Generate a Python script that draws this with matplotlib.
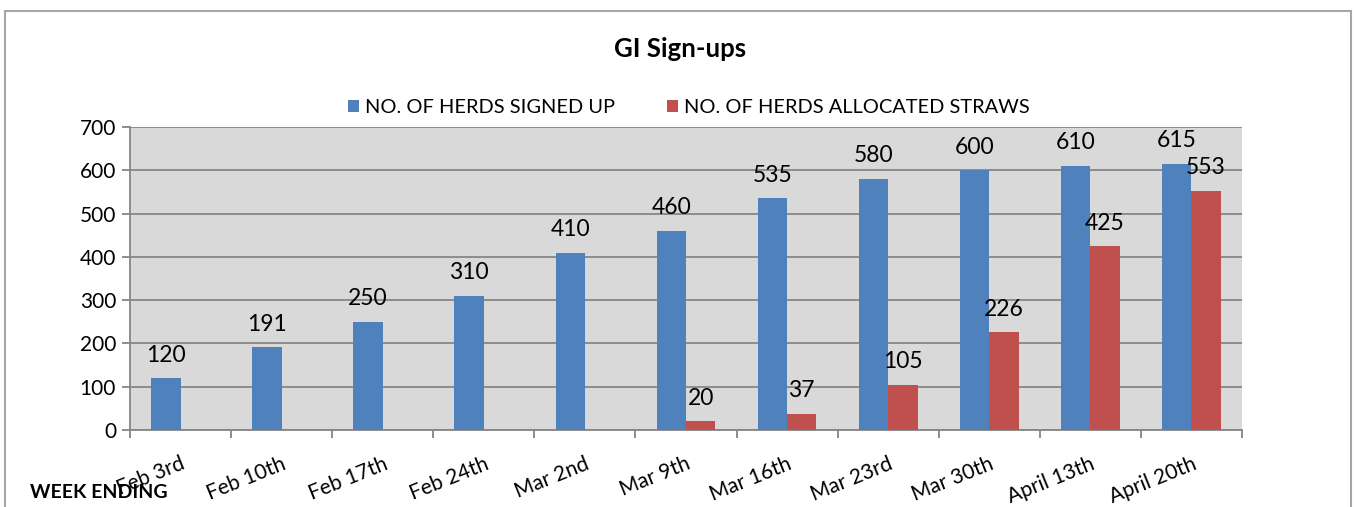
import numpy as np
import matplotlib.pyplot as plt
from matplotlib.patches import Rectangle

plt.rcParams['font.family'] = ['Lato', 'DejaVu Sans']

weeks = ["Feb 3rd", "Feb 10th", "Feb 17th", "Feb 24th", "Mar 2nd", "Mar 9th",
         "Mar 16th", "Mar 23rd", "Mar 30th", "April 13th", "April 20th"]
signed_up = [120, 191, 250, 310, 410, 460, 535, 580, 600, 610, 615]
allocated = [0, 0, 0, 0, 0, 20, 37, 105, 226, 425, 553]

BLUE = "#4F81BD"
RED = "#C0504D"
GRID = "#868686"

fig = plt.figure(figsize=(13.54, 5.07), dpi=100)
ax = fig.add_axes([0.0960, 0.1519, 0.8213, 0.5976])
ax.set_facecolor("#D9D9D9")

x = np.arange(len(weeks))
w = 0.29
ax.bar(x - w / 2, signed_up, w, color=BLUE, label="NO. OF HERDS SIGNED UP", zorder=3)
ax.bar(x + w / 2, allocated, w, color=RED, label="NO. OF HERDS ALLOCATED STRAWS", zorder=3)

# data labels (no label where nothing was allocated yet)
for xi, v in zip(x - w / 2, signed_up):
    ax.annotate(str(v), (xi, v), xytext=(0, 9), textcoords="offset points",
                ha="center", va="bottom", fontsize=16.5, zorder=4)
for xi, v in zip(x + w / 2, allocated):
    if v:
        ax.annotate(str(v), (xi, v), xytext=(0, 9), textcoords="offset points",
                    ha="center", va="bottom", fontsize=16.5, zorder=4)

ax.set_xlim(-0.5, len(weeks) - 0.5)
ax.set_ylim(0, 700)
ax.set_yticks(range(0, 701, 100))
ax.yaxis.grid(True, color=GRID, linewidth=1.3, zorder=1)
ax.set_axisbelow(True)

ax.set_xticks(np.arange(-0.5, len(weeks), 1.0))
ax.set_xticklabels([])
ax.set_xticks(x, minor=True)
ax.set_xticklabels(weeks, minor=True, rotation=22, ha="right", rotation_mode="anchor",
                   fontsize=15)
ax.tick_params(axis="x", which="minor", length=0, pad=17)
ax.tick_params(axis="x", which="major", length=6, color=GRID, width=1.3)
ax.tick_params(axis="y", length=6, color=GRID, width=1.3, labelsize=15, pad=4)

for s in ["top", "right"]:
    ax.spines[s].set_visible(False)
for s in ["left", "bottom"]:
    ax.spines[s].set_color(GRID)
    ax.spines[s].set_linewidth(1.3)

fig.text(0.502, 0.903, "GI Sign-ups", ha="center", va="center", fontsize=18.5, fontweight="bold")
fig.legend(loc="center", bbox_to_anchor=(0.509, 0.788), ncol=2, frameon=False,
           fontsize=14.4, handlelength=0.55, handleheight=0.55, handletextpad=0.3,
           columnspacing=2.6)
fig.text(0.022, 0.028, "WEEK ENDING", ha="left", va="center", fontsize=14, fontweight="bold")

fig.patches.append(Rectangle((5 / 1354, -0.05), 1346 / 1354, 1.05 - 11 / 507,
                             transform=fig.transFigure, fill=False, edgecolor="#A6A6A6",
                             linewidth=1.5))

fig.savefig("out.png", dpi=100)
